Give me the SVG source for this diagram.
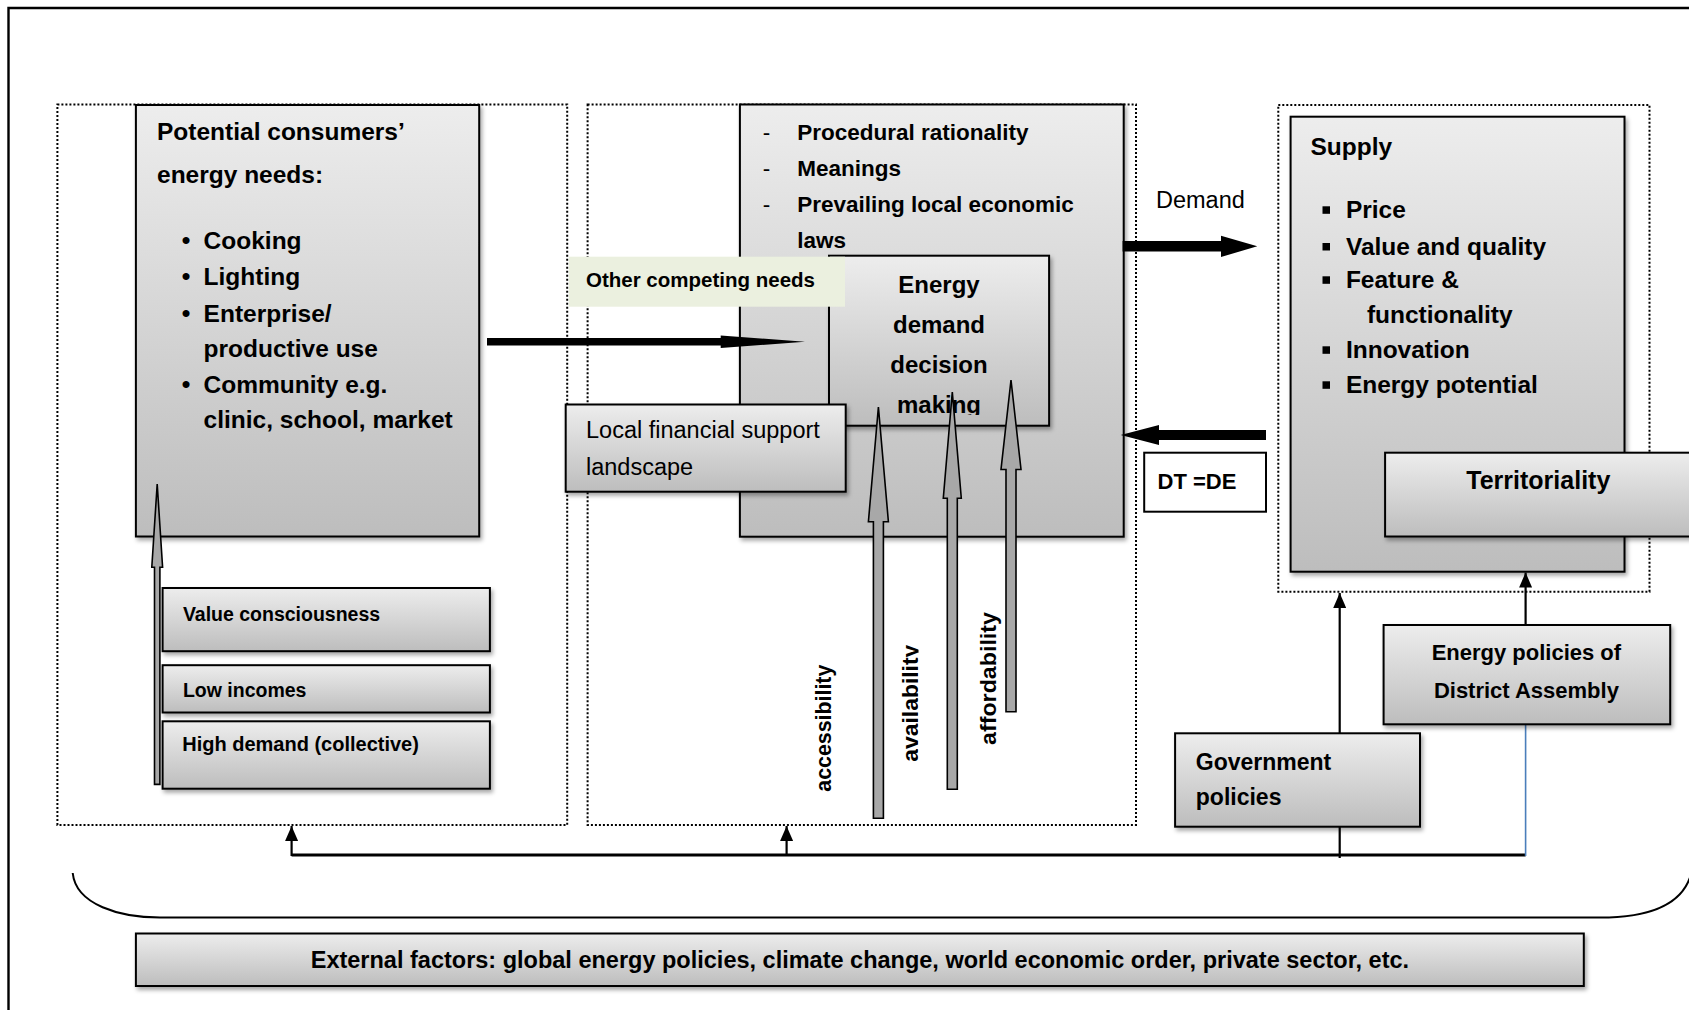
<svg xmlns="http://www.w3.org/2000/svg" width="1689" height="1010" viewBox="0 0 1689 1010">
<defs>
<style>
.b{font-family:"Liberation Sans",Arial,sans-serif;font-weight:bold;fill:#000}
.r{font-family:"Liberation Sans",Arial,sans-serif;font-weight:normal;fill:#000}
.box{fill:url(#g);stroke:#000;stroke-width:2;filter:url(#sh)}
.dot{fill:none;stroke:#000;stroke-width:2;stroke-dasharray:2 2}
.blk{fill:#a8a8a8;stroke:#000;stroke-width:1.6;stroke-linejoin:miter}
.ln{fill:none;stroke:#000;stroke-width:2.2}
</style>
<linearGradient id="g" x1="0" y1="0" x2="0" y2="1">
<stop offset="0" stop-color="#ededed"/>
<stop offset="1" stop-color="#bdbdbd"/>
</linearGradient>
<filter id="sh" x="-10%" y="-10%" width="125%" height="130%">
<feDropShadow dx="2" dy="3" stdDeviation="2" flood-color="#000" flood-opacity="0.35"/>
</filter>
<marker id="ah" viewBox="0 0 15 13" refX="15" refY="6.5" markerWidth="15" markerHeight="13" markerUnits="userSpaceOnUse" orient="auto">
<path d="M0,0 L15,6.5 L0,13 z" fill="#000"/>
</marker>
<clipPath id="clipMaking"><rect x="829" y="255" width="220" height="160"/></clipPath>
<clipPath id="clipAvail"><rect x="880" y="600" width="38.5" height="200"/></clipPath>
</defs>

<rect width="1689" height="1010" fill="#fff"/>
<path d="M8.5 1015 L8.5 8 L1695 8" fill="none" stroke="#000" stroke-width="2.4"/>

<!-- dotted group boxes -->
<g id="group-left"><rect class="dot" x="57.4" y="104.5" width="509.8" height="720.5"/></g>
<g id="group-middle"><rect class="dot" x="587.6" y="104.5" width="548.4" height="720.5"/></g>
<g id="group-supply"><rect class="dot" x="1278.3" y="105" width="371.2" height="486.7"/></g>

<!-- bracket -->
<path d="M72.7 873 C76 905 120 917.5 160 917.5 L1600 917.5 C1650 917.5 1685 905 1692 870" fill="none" stroke="#000" stroke-width="2"/>

<!-- connectors (thin) -->
<g id="connectors">
<line x1="1339.7" y1="858" x2="1339.7" y2="593" class="ln" marker-end="url(#ah)"/>
<line x1="1525.6" y1="625" x2="1525.6" y2="572.5" class="ln" marker-end="url(#ah)"/>
<line x1="291.6" y1="855" x2="1525.6" y2="855" stroke="#000" stroke-width="3"/>
<line x1="291.6" y1="856" x2="291.6" y2="826" class="ln" marker-end="url(#ah)"/>
<line x1="786.6" y1="856" x2="786.6" y2="826" class="ln" marker-end="url(#ah)"/>
<line x1="1525.6" y1="724.3" x2="1525.6" y2="856" stroke="#4a7ebb" stroke-width="1.6"/>
</g>

<!-- consumer needs -->
<g id="consumer-needs">
<rect class="box" x="135.9" y="105" width="343.3" height="431.5"/>
<text class="b" x="157" y="140" font-size="24.5">Potential consumers’</text>
<text class="b" x="157" y="182.7" font-size="24.5">energy needs:</text>
<g class="b" font-size="24.5">
<text x="186" y="249.3" text-anchor="middle">•</text>
<text x="186" y="285" text-anchor="middle">•</text>
<text x="186" y="321.7" text-anchor="middle">•</text>
<text x="186" y="392.7" text-anchor="middle">•</text>
<text x="203.6" y="249.3">Cooking</text>
<text x="203.6" y="285">Lighting</text>
<text x="203.6" y="321.7">Enterprise/</text>
<text x="203.6" y="356.7">productive use</text>
<text x="203.6" y="392.7">Community e.g.</text>
<text x="203.6" y="427.7">clinic, school, market</text>
</g>
</g>

<!-- middle decision context -->
<g id="decision-context">
<rect class="box" x="739.9" y="104.5" width="383.8" height="432.2"/>
<g font-size="22.5">
<text class="r" x="762.8" y="140">-</text>
<text class="r" x="762.8" y="176">-</text>
<text class="r" x="762.8" y="211.7">-</text>
<text class="b" x="797.3" y="140">Procedural rationality</text>
<text class="b" x="797.3" y="176">Meanings</text>
<text class="b" x="797.3" y="211.7">Prevailing local economic</text>
<text class="b" x="797.3" y="247.7">laws</text>
</g>
</g>

<g id="energy-decision">
<rect class="box" x="829" y="255.7" width="220.1" height="170"/>
<g class="b" font-size="24" text-anchor="middle">
<text x="939" y="293">Energy</text>
<text x="939" y="333">demand</text>
<text x="939" y="372.7">decision</text>
<text x="939" y="413.3" clip-path="url(#clipMaking)">making</text>
</g>
</g>

<g id="other-needs">
<rect x="568.8" y="256.7" width="276.2" height="50" fill="#ebf0df"/>
<text class="b" x="586" y="286.7" font-size="20.5">Other competing needs</text>
</g>

<g id="local-finance">
<rect class="box" x="565.7" y="404.5" width="280" height="87.2"/>
<text class="r" x="586" y="438" font-size="23.5">Local financial support</text>
<text class="r" x="586" y="475" font-size="23.5">landscape</text>
</g>

<!-- block arrows -->
<g id="block-arrows">
<polygon class="blk" points="873.4,818.3 873.4,521.7 868.4,521.7 878.4,407 888.4,521.7 883.4,521.7 883.4,818.3"/>
<polygon class="blk" points="947.3,789.3 947.3,498.3 943.3,498.3 952.3,392 961.3,498.3 957.3,498.3 957.3,789.3"/>
<polygon class="blk" points="1006,711.7 1006,469.5 1001,469.5 1011,380 1021,469.5 1016,469.5 1016,711.7"/>
<polygon class="blk" points="154.5,784.4 154.5,567.3 151.8,567.3 157.2,484 162.6,567.3 159.9,567.3 159.9,784.4"/>
<polygon fill="#000" points="487,338 720.7,338 720.7,335.4 805,341.7 720.7,348 720.7,345.4 487,345.4"/>
<polygon fill="#000" points="1122.6,241 1221,241 1221,235.7 1257.3,246.3 1221,257 1221,251.6 1122.6,251.6"/>
<polygon fill="#000" points="1266,430 1159,430 1159,425 1120.7,435 1159,445 1159,440 1266,440"/>
</g>

<g class="b" font-size="22.5">
<text transform="translate(831,791.7) rotate(-90)" textLength="127" lengthAdjust="spacingAndGlyphs">accessibility</text>
<g clip-path="url(#clipAvail)"><text transform="translate(918,761.7) rotate(-90)" textLength="117" lengthAdjust="spacingAndGlyphs">availability</text></g>
<text transform="translate(995.5,745) rotate(-90)" textLength="133" lengthAdjust="spacingAndGlyphs">affordability</text>
</g>

<text class="r" x="1156" y="207.5" font-size="23.5">Demand</text>

<g id="dt-de">
<rect x="1144.2" y="452.7" width="121.8" height="59" fill="#fff" stroke="#000" stroke-width="2"/>
<text class="b" x="1157.5" y="489.3" font-size="22">DT =DE</text>
</g>

<!-- supply -->
<g id="supply">
<rect class="box" x="1290.6" y="116.7" width="333.9" height="455"/>
<text class="b" x="1310.5" y="155" font-size="24.5">Supply</text>
<g fill="#000">
<rect x="1322.5" y="206.3" width="7.5" height="7.5"/>
<rect x="1322.5" y="243" width="7.5" height="7.5"/>
<rect x="1322.5" y="276.3" width="7.5" height="7.5"/>
<rect x="1322.5" y="346.3" width="7.5" height="7.5"/>
<rect x="1322.5" y="381.3" width="7.5" height="7.5"/>
</g>
<g class="b" font-size="24.5">
<text x="1345.9" y="218.3">Price</text>
<text x="1345.9" y="255">Value and quality</text>
<text x="1345.9" y="288.3">Feature &amp;</text>
<text x="1366.9" y="323.3">functionality</text>
<text x="1345.9" y="358.3">Innovation</text>
<text x="1345.9" y="393.3">Energy potential</text>
</g>
</g>

<g id="territoriality">
<rect class="box" x="1385.1" y="452.7" width="320" height="83.8"/>
<text class="b" x="1538.3" y="489.3" font-size="25" text-anchor="middle">Territoriality</text>
</g>

<g id="district-policies">
<rect class="box" x="1383.6" y="625" width="286.6" height="99.3"/>
<text class="b" x="1526.4" y="660" font-size="22" text-anchor="middle">Energy policies of</text>
<text class="b" x="1526.4" y="698.3" font-size="22" text-anchor="middle">District Assembly</text>
</g>

<g id="government-policies">
<rect class="box" x="1175.1" y="733.3" width="244.9" height="93.4"/>
<text class="b" x="1195.8" y="770" font-size="23">Government</text>
<text class="b" x="1195.8" y="805" font-size="23">policies</text>
</g>

<g id="value-consciousness">
<rect class="box" x="162.6" y="588" width="327.3" height="63.2"/>
<text class="b" x="182.9" y="620.6" font-size="19.5">Value consciousness</text>
</g>
<g id="low-incomes">
<rect class="box" x="162.6" y="665.2" width="327.3" height="47.3"/>
<text class="b" x="182.9" y="696.8" font-size="19.5">Low incomes</text>
</g>
<g id="high-demand">
<rect class="box" x="162.6" y="721.3" width="327.3" height="67.4"/>
<text class="b" x="182.2" y="751.1" font-size="20">High demand (collective)</text>
</g>

<g id="external-factors">
<rect class="box" x="135.9" y="933.5" width="1447.9" height="52.5"/>
<text class="b" x="859.9" y="968.3" font-size="23.5" text-anchor="middle">External factors: global energy policies, climate change, world economic order, private sector, etc.</text>
</g>
</svg>
